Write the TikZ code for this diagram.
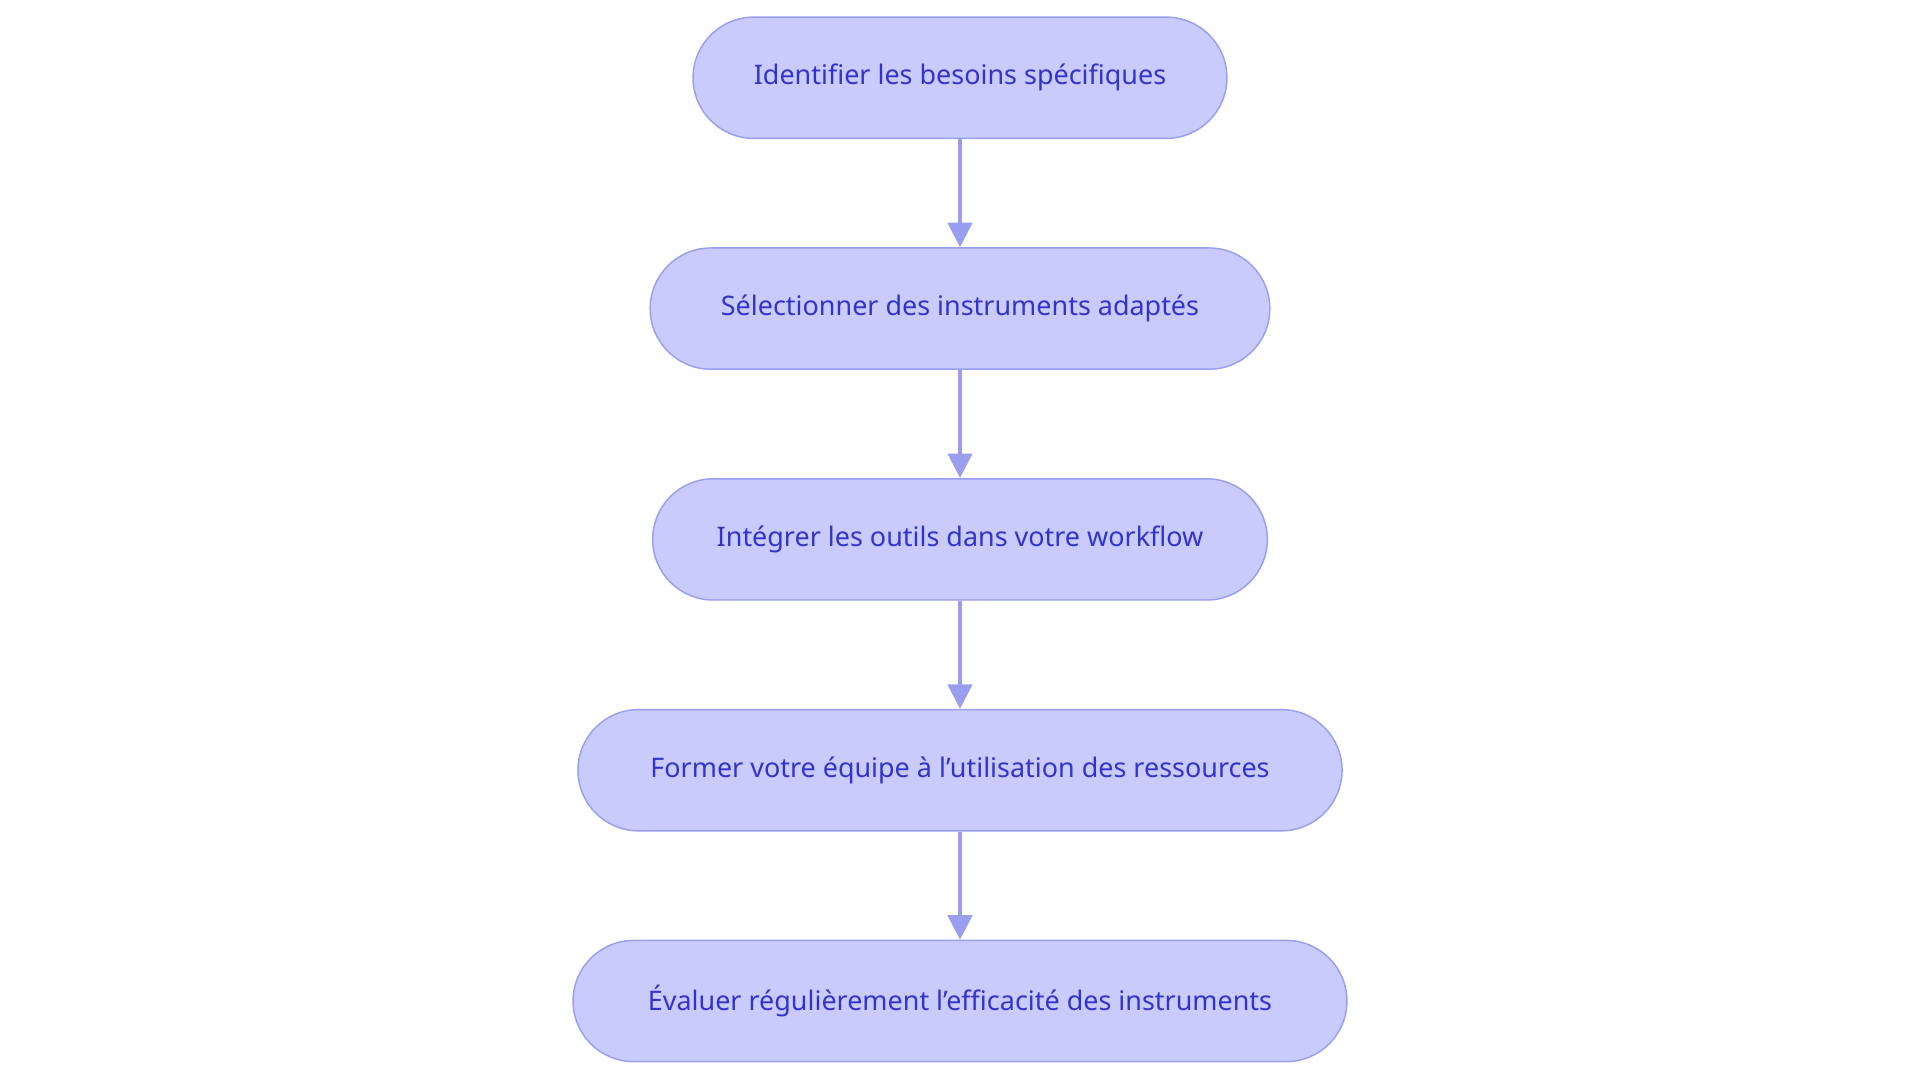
\documentclass[tikz,border=0pt]{standalone}
\usepackage{fontspec}
\setmainfont{Noto Sans}
\usetikzlibrary{arrows.meta}
\definecolor{nfill}{HTML}{C9CBFD}
\definecolor{nline}{HTML}{9A9EEE}
\definecolor{ntext}{HTML}{3333CC}
\begin{document}
\begin{tikzpicture}[x=1pt,y=-1pt,
 box/.style={draw=nline,line width=1.2pt,fill=nfill,rounded corners=49.5pt,minimum height=99pt,text=ntext,font=\fontsize{22}{26}\selectfont,inner xsep=0pt},
 arr/.style={draw=nline,line width=2.5pt,-{Triangle[length=20pt,width=20pt]}}]
\useasboundingbox (0,0) rectangle (1568,884);
\node[box,minimum width=436pt] (a) at (784,63.5) {Identifier les besoins spécifiques};
\node[box,minimum width=506pt] (b) at (784,252) {Sélectionner des instruments adaptés};
\node[box,minimum width=502pt] (c) at (784,440.5) {Intégrer les outils dans votre workflow};
\node[box,minimum width=624pt] (d) at (784,629) {Former votre équipe à l'utilisation des ressources};
\node[box,minimum width=632pt] (e) at (784,817.5) {Évaluer régulièrement l’efficacité des instruments};
\draw[arr] (a) -- (b);
\draw[arr] (b) -- (c);
\draw[arr] (c) -- (d);
\draw[arr] (d) -- (e);
\end{tikzpicture}
\end{document}
